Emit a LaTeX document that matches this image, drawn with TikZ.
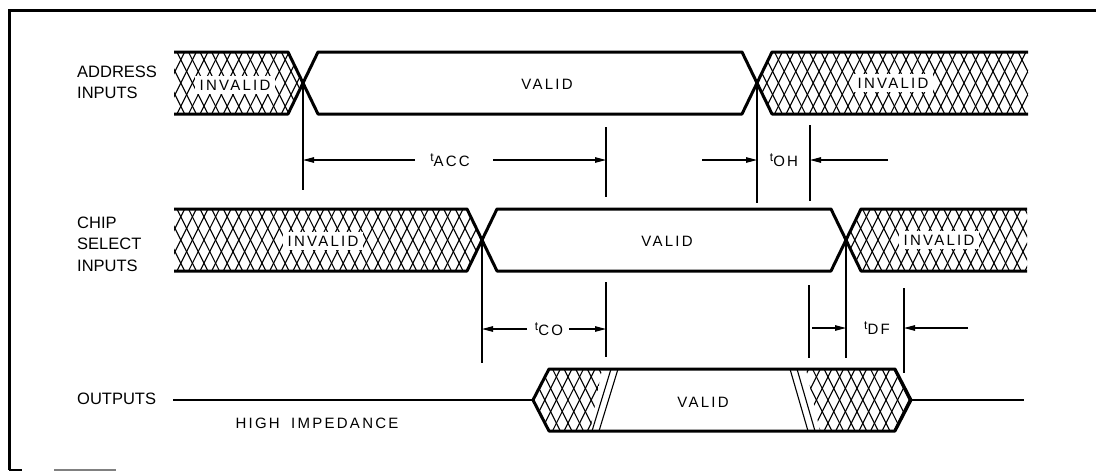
\documentclass[tikz,border=0pt]{standalone}
\usepackage{fontspec}
\setmainfont{Liberation Sans}
\newfontfamily\lblfont{Liberation Sans}
\newfontfamily\bandfont[LetterSpace=15]{Liberation Sans}
\usetikzlibrary{arrows.meta}
% "/" family of hatch lines
\newcommand\hatchA[3]{\foreach \i in {0,...,#2}{\draw[hatchln] ({#1+11.6*\i},{#3+40}) -- ++(40,-80);}}
% "\" family of hatch lines
\newcommand\hatchB[3]{\foreach \i in {0,...,#2}{\draw[hatchln] ({#1+11.6*\i},{#3-40}) -- ++(40,80);}}
\newcommand\tlab[2]{\raisebox{4.5pt}{\fontsize{12}{12}\selectfont #1}#2}
\begin{document}
\begin{tikzpicture}[x=1pt,y=-1pt,
  sig/.style={line width=3pt,line join=round},
  outln/.style={line width=2.6pt},
  ext/.style={line width=1.1pt},
  dim/.style={line width=1.1pt,-{Triangle[length=11pt,width=5.5pt]}},
  hatchln/.style={line width=1.1pt},
  lbl/.style={font={\lblfont\fontsize{16.5}{21.5}\selectfont},align=left,anchor=west,inner sep=0pt},
  bandtxt/.style={font={\bandfont\fontsize{15}{15}\selectfont},fill=white,inner xsep=4.5pt,inner ysep=3.5pt},
  tlbl/.style={font={\bandfont\fontsize{15}{15}\selectfont},inner sep=1pt},
  frm/.style={line width=3pt}]
\useasboundingbox (0,0) rectangle (1096,472);
% frame
\coordinate (fTR) at (1096,10);
\coordinate (fTL) at (9,10);
\coordinate (fBL) at (9,470);
\draw[frm] (fTR) -- (fTL) -- (fBL);
\coordinate (fb1) at (22,470);
\coordinate (fb2) at (54,470);
\coordinate (fb3) at (116,470);
\draw[line width=2pt] (fBL) -- (fb1);
\draw[line width=1.5pt,gray] (fb2) -- (fb3);

% key coordinates
\coordinate (aX1) at (303,83);
\coordinate (aX2) at (757,83);
\coordinate (cX1) at (482,240);
\coordinate (cX2) at (846,240);
\coordinate (oS) at (173,400);
\coordinate (oL) at (533,400);
\coordinate (oR) at (911,400);
\coordinate (oE) at (1024,400);

% ---- hatching ----
\begin{scope}
\clip (174,52) -- (288,52) -- (aX1) -- (288,114) -- (174,114) -- cycle;
\hatchA{126}{17}{83}\hatchB{126}{17}{83}
\end{scope}
\begin{scope}
\clip (772,52) -- (1028,52) -- (1028,114) -- (772,114) -- (aX2) -- cycle;
\hatchA{712}{29}{83}\hatchB{712}{29}{83}
\end{scope}
\begin{scope}
\clip (174,209) -- (467,209) -- (cX1) -- (467,271) -- (174,271) -- cycle;
\hatchA{126}{32}{240}\hatchB{126}{32}{240}
\end{scope}
\begin{scope}
\clip (861,209) -- (1027,209) -- (1027,271) -- (861,271) -- (cX2) -- cycle;
\hatchA{800}{21}{240}\hatchB{800}{21}{240}
\end{scope}
% outputs, leading edge: cross-hatch ending in single "/" strokes
\begin{scope}
\clip (oL) -- (549,369) -- (602,369) -- (590,431) -- (549,431) -- cycle;
\hatchA{490}{12}{400}\hatchB{490}{12}{400}
\end{scope}
\coordinate (sl1b) at (592,431); \coordinate (sl1t) at (611,369);
\coordinate (sl2b) at (599,431); \coordinate (sl2t) at (618,369);
\draw[hatchln] (sl1b) -- (sl1t);
\draw[hatchln] (sl2b) -- (sl2t);
% outputs, trailing edge: single "\" strokes then cross-hatch
\coordinate (bs1t) at (790,369); \coordinate (bs1b) at (808,431);
\coordinate (bs2t) at (797,369); \coordinate (bs2b) at (815,431);
\draw[hatchln] (bs1t) -- (bs1b);
\draw[hatchln] (bs2t) -- (bs2b);
\begin{scope}
\clip (806,369) -- (895,369) -- (oR) -- (895,431) -- (820,431) -- cycle;
\hatchA{750}{15}{400}\hatchB{750}{15}{400}
\end{scope}

% ---- band texts ----
\node[bandtxt] (aInv1) at (235,85) {INVALID};
\node[bandtxt] (aVal) at (547,84) {VALID};
\node[bandtxt] (aInv2) at (893,83) {INVALID};
\node[bandtxt] (cInv1) at (323,241) {INVALID};
\node[bandtxt] (cVal) at (667,241) {VALID};
\node[bandtxt] (cInv2) at (939,240) {INVALID};
\node[bandtxt] (oVal) at (703,402) {VALID};

% ---- signal outlines ----
\draw[sig] (174,52) -- (288,52) -- (aX1) -- (318,114) -- (742,114) -- (aX2) -- (772,52) -- (1028,52);
\draw[sig] (174,114) -- (288,114) -- (aX1) -- (318,52) -- (742,52) -- (aX2) -- (772,114) -- (1028,114);
\draw[sig] (174,209) -- (467,209) -- (cX1) -- (497,271) -- (831,271) -- (cX2) -- (861,209) -- (1027,209);
\draw[sig] (174,271) -- (467,271) -- (cX1) -- (497,209) -- (831,209) -- (cX2) -- (861,271) -- (1027,271);
\draw[outln] (oS) -- (oL);
\draw[sig] (oL) -- (549,369) -- (895,369) -- (oR) -- (895,431) -- (549,431) -- cycle;
\draw[outln] (oR) -- (oE);

% ---- left labels ----
\node[lbl] (lAddr) at (77,82.5) {ADDRESS\\INPUTS};
\node[lbl] (lCs) at (77,244) {CHIP\\SELECT\\INPUTS};
\node[lbl] (lOut) at (77,399) {OUTPUTS};
\node[tlbl] (hiz) at (317,423) {HIGH\hspace{5pt} IMPEDANCE};

% ---- extension lines ----
\coordinate (e1) at (303,190);
\coordinate (e2a) at (606,127); \coordinate (e2b) at (606,197);
\coordinate (e3) at (757,203);
\coordinate (e4a) at (810,125); \coordinate (e4b) at (810,201);
\coordinate (e5a) at (606,282); \coordinate (e5b) at (606,357);
\coordinate (e6) at (482,363);
\coordinate (e7a) at (809,285); \coordinate (e7b) at (809,358);
\coordinate (e8) at (846,358);
\coordinate (e9a) at (904,288); \coordinate (e9b) at (904,373);
\draw[ext] (aX1) -- (e1);
\draw[ext] (e2a) -- (e2b);
\draw[ext] (aX2) -- (e3);
\draw[ext] (e4a) -- (e4b);
\draw[ext] (e5a) -- (e5b);
\draw[ext] (cX1) -- (e6);
\draw[ext] (e7a) -- (e7b);
\draw[ext] (cX2) -- (e8);
\draw[ext] (e9a) -- (e9b);

% ---- timing labels and arrows ----
\node[tlbl] (tacc) at (450,160) {\tlab{t}{ACC}};
\coordinate (tacc-l) at (415,160); \coordinate (tacc-r) at (493,160);
\draw[dim] (tacc-l) -- (tacc-l -| aX1);
\draw[dim] (tacc-r) -- (tacc-r -| e2a);

\node[tlbl] (toh) at (784,160) {\tlab{t}{OH}};
\coordinate (toh-l) at (702,160); \coordinate (toh-r) at (888,160);
\draw[dim] (toh-l) -- (toh-l -| aX2);
\draw[dim] (toh-r) -- (toh-r -| e4a);

\node[tlbl] (tco) at (549,329) {\tlab{t}{CO}};
\coordinate (tco-l) at (527,329); \coordinate (tco-r) at (569,329);
\draw[dim] (tco-l) -- (tco-l -| cX1);
\draw[dim] (tco-r) -- (tco-r -| e5a);

\node[tlbl] (tdf) at (877,328) {\tlab{t}{DF}};
\coordinate (tdf-l) at (812,328); \coordinate (tdf-r) at (968,328);
\draw[dim] (tdf-l) -- (tdf-l -| cX2);
\draw[dim] (tdf-r) -- (tdf-r -| e9a);
\end{tikzpicture}
\end{document}
